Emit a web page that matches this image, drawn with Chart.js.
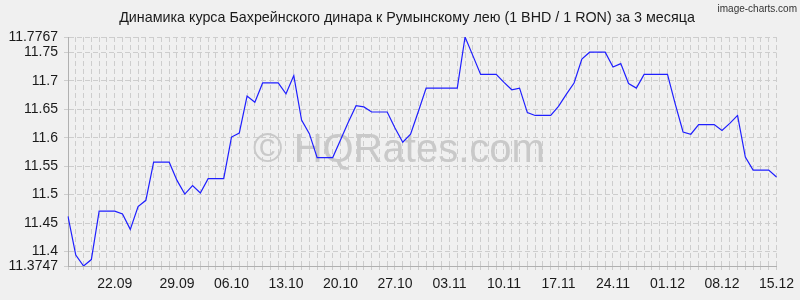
<!DOCTYPE html>
<html>
<head>
<meta charset="utf-8">
<script src="https://cdn.jsdelivr.net/npm/chart.js@4.4.1/dist/chart.umd.min.js"></script>
<style>
  html, body { margin: 0; padding: 0; background: #f0f0f0; }
  #wrap { width: 800px; height: 300px; }
</style>
</head>
<body>
<div id="wrap"><canvas id="myChart"></canvas></div>
<script>
var dates = [
  '16.09', '17.09', '18.09', '19.09', '20.09', '21.09', '22.09', '23.09', '24.09', '25.09',
  '25.09', '26.09', '27.09', '28.09', '29.09', '30.09', '01.10', '02.10', '03.10', '04.10',
  '05.10', '06.10', '07.10', '08.10', '09.10', '10.10', '11.10', '12.10', '13.10', '14.10',
  '15.10', '16.10', '17.10', '18.10', '19.10', '20.10', '21.10', '22.10', '23.10', '24.10',
  '25.10', '26.10', '27.10', '28.10', '29.10', '30.10', '31.10', '01.11', '02.11', '03.11',
  '04.11', '05.11', '06.11', '07.11', '08.11', '09.11', '10.11', '11.11', '12.11', '13.11',
  '14.11', '15.11', '16.11', '17.11', '18.11', '19.11', '20.11', '21.11', '22.11', '23.11',
  '24.11', '25.11', '26.11', '27.11', '28.11', '29.11', '30.11', '01.12', '02.12', '03.12',
  '04.12', '05.12', '06.12', '07.12', '08.12', '09.12', '10.12', '11.12', '12.12', '13.12',
  '14.12', '15.12'
];

var rates = [
  11.462, 11.394, 11.3747, 11.386, 11.471, 11.471, 11.471, 11.466, 11.439, 11.479,
  11.490, 11.557, 11.557, 11.557, 11.525, 11.501, 11.516, 11.503, 11.528, 11.528,
  11.528, 11.601, 11.608, 11.673, 11.662, 11.696, 11.696, 11.696, 11.677, 11.709,
  11.631, 11.607, 11.565, 11.565, 11.565, 11.596, 11.627, 11.656, 11.654, 11.645,
  11.645, 11.645, 11.617, 11.592, 11.606, 11.646, 11.687, 11.687, 11.687, 11.687,
  11.687, 11.7767, 11.744, 11.711, 11.711, 11.711, 11.697, 11.684, 11.687, 11.644,
  11.639, 11.639, 11.639, 11.655, 11.676, 11.696, 11.738, 11.750, 11.750, 11.750,
  11.724, 11.730, 11.695, 11.687, 11.711, 11.711, 11.711, 11.711, 11.659, 11.610,
  11.606, 11.623, 11.623, 11.623, 11.6125, 11.625, 11.639, 11.566, 11.543, 11.543,
  11.543, 11.531
];

var tickDates = ['22.09', '29.09', '06.10', '13.10', '20.10', '27.10', '03.11',
                 '10.11', '17.11', '24.11', '01.12', '08.12', '15.12'];

var yTicks = [11.3747, 11.4, 11.45, 11.5, 11.55, 11.6, 11.65, 11.7, 11.75, 11.7767];
var yTickLabels = ['11.3747', '11.4', '11.45', '11.5', '11.55', '11.6', '11.65', '11.7', '11.75', '11.7767'];

var titleText = 'Динамика курса Бахрейнского динара к Румынскому лею (1 BHD / 1 RON) за 3 месяца';

Chart.defaults.font.family = '"Liberation Sans", Arial, sans-serif';
Chart.defaults.font.size = 14;
Chart.defaults.color = '#1a1a1a';

var textPlugin = {
  id: 'texts',
  beforeDatasetsDraw: function(chart) {
    var ctx = chart.ctx;
    ctx.save();
    ctx.font = '40px "Liberation Sans", Arial, sans-serif';
    ctx.fillStyle = '#c9c9c9';
    ctx.textAlign = 'center';
    ctx.textBaseline = 'alphabetic';
    ctx.fillText('\u00a9 HQRates.com', 399, 162);
    ctx.restore();
  },
  afterDraw: function(chart) {
    var ctx = chart.ctx;
    ctx.save();
    ctx.fillStyle = '#1a1a1a';
    ctx.font = '14.3px "Liberation Sans", Arial, sans-serif';
    ctx.textAlign = 'center';
    ctx.textBaseline = 'middle';
    ctx.fillText(titleText, 407, 18);
    ctx.font = '10px "Liberation Sans Narrow", "Liberation Sans", Arial, sans-serif';
    ctx.fillStyle = '#333333';
    ctx.textAlign = 'right';
    ctx.textBaseline = 'alphabetic';
    ctx.fillText('image-charts.com', 797, 12);
    ctx.restore();
  }
};

var chart = new Chart(document.getElementById('myChart'), {
  type: 'line',
  data: {
    labels: dates,
    datasets: [{
      data: rates,
      borderColor: '#1f1fff',
      borderWidth: 1.2,
      pointRadius: 0,
      fill: false,
      tension: 0
    }]
  },
  options: {
    responsive: true,
    maintainAspectRatio: false,
    animation: false,
    events: [],
    layout: {
      padding: { top: 37, right: 21, left: 0, bottom: 0 }
    },
    plugins: {
      legend: { display: false },
      tooltip: { enabled: false }
    },
    scales: {
      x: {
        type: 'category',
        offset: false,
        afterFit: function(scale) { scale.height = 34; },
        grid: {
          color: '#cdcdcd',
          lineWidth: 1,
          tickLength: 4,
          drawOnChartArea: true
        },
        border: { display: true, color: '#b0b0b0', dash: [5, 3] },
        ticks: {
          autoSkip: false,
          maxRotation: 0,
          minRotation: 0,
          padding: 6,
          callback: function(value, index) {
            var label = dates[index];
            if (tickDates.indexOf(label) >= 0 && dates.indexOf(label) === index) {
              return label;
            }
            return '';
          }
        }
      },
      y: {
        type: 'linear',
        min: 11.3747,
        max: 11.7767,
        afterFit: function(scale) { scale.width = 68; },
        afterBuildTicks: function(scale) {
          scale.ticks = yTicks.map(function(v) { return { value: v }; });
        },
        grid: {
          color: '#cdcdcd',
          lineWidth: 1,
          tickLength: 4
        },
        border: { display: true, color: '#b0b0b0', dash: [5, 3] },
        ticks: {
          padding: 6,
          callback: function(value, index) {
            return yTickLabels[index];
          }
        }
      }
    }
  },
  plugins: [textPlugin]
});
</script>
</body>
</html>
